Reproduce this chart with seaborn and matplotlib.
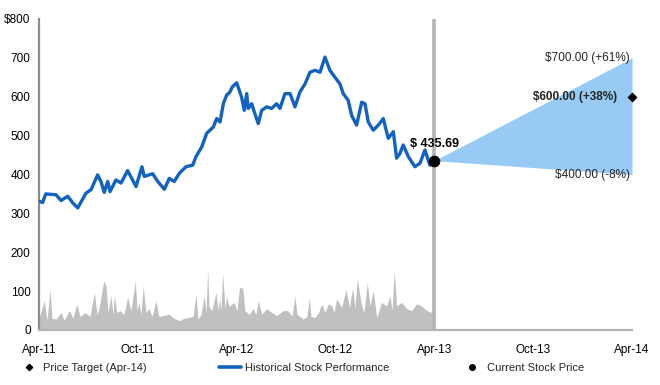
import numpy as np
import pandas as pd
import matplotlib
matplotlib.use("Agg")
import matplotlib.pyplot as plt
from matplotlib.lines import Line2D
import seaborn as sns

# ---- data (x in months since Apr-11) ----
price_months = [0.02, 0.22, 0.41, 1.03, 1.34, 1.74, 2.05, 2.35, 2.85, 3.16, 3.56, 3.76, 3.96, 4.17,
                4.31, 4.67, 4.98, 5.38, 5.89, 6.25, 6.39, 6.90, 7.21, 7.61, 7.91, 8.21, 8.52, 8.92,
                9.33, 9.53, 9.88, 10.18, 10.58, 10.79, 10.99, 11.19, 11.39, 11.59, 11.73, 12.00,
                12.30, 12.46, 12.61, 12.70, 12.91, 13.07, 13.31, 13.52, 13.82, 14.12, 14.43, 14.63,
                14.93, 15.24, 15.54, 15.84, 16.15, 16.45, 16.75, 17.06, 17.36, 17.66, 17.97, 18.27,
                18.47, 18.77, 18.98, 19.28, 19.59, 19.79, 19.99, 20.29, 20.60, 20.90, 21.20, 21.51,
                21.71, 21.91, 22.11, 22.42, 22.82, 23.13, 23.43, 23.73, 24.00]
price_values = [331, 328, 350, 348, 333, 344, 327, 314, 352, 361, 399, 382, 354, 382,
                356, 386, 378, 410, 369, 420, 395, 402, 382, 362, 390, 382, 403, 420,
                424, 446, 471, 506, 522, 544, 535, 582, 604, 612, 625, 636,
                599, 565, 608, 570, 582, 561, 531, 565, 574, 570, 582, 570,
                608, 608, 574, 612, 633, 663, 668, 663, 702, 668, 650, 633,
                608, 591, 552, 527, 586, 582, 535, 514, 527, 544, 493, 510,
                442, 454, 476, 446, 420, 429, 463, 424, 435.69]

volume_months = [0.00, 0.32, 0.49, 0.67, 0.79, 1.03, 1.34, 1.52, 1.84, 2.06, 2.29, 2.49, 2.79, 3.10,
                 3.36, 3.52, 3.64, 3.93, 4.07, 4.19, 4.37, 4.49, 4.58, 4.73, 4.92, 5.16, 5.38, 5.58,
                 5.85, 5.95, 6.07, 6.19, 6.33, 6.49, 6.67, 6.86, 7.10, 7.28, 7.53, 7.89, 8.19, 8.52,
                 8.80, 9.04, 9.35, 9.53, 9.65, 9.83, 10.03, 10.14, 10.24, 10.32, 10.50, 10.74, 10.87,
                 10.96, 11.05, 11.15, 11.29, 11.39, 11.53, 11.72, 11.84, 12.02, 12.17, 12.30, 12.38,
                 12.50, 12.75, 12.99, 13.17, 13.31, 13.52, 13.82, 14.12, 14.43, 14.81, 15.11, 15.36,
                 15.54, 15.66, 16.04, 16.27, 16.41, 16.51, 16.75, 16.97, 17.16, 17.36, 17.56, 17.77,
                 17.91, 18.07, 18.37, 18.64, 18.84, 19.04, 19.18, 19.32, 19.59, 19.73, 19.93, 20.09,
                 20.29, 20.50, 20.80, 21.10, 21.31, 21.43, 21.57, 21.71, 22.02, 22.32, 22.62, 22.92,
                 23.23, 23.53, 23.84, 23.98]
volume_values = [30, 75, 25, 105, 30, 28, 45, 25, 50, 30, 67, 35, 45, 35,
                 97, 40, 55, 126, 113, 45, 88, 40, 88, 45, 50, 40, 84, 50,
                 126, 50, 71, 40, 113, 45, 55, 35, 75, 35, 37, 41, 30, 24,
                 30, 32, 35, 92, 28, 40, 88, 45, 156, 60, 50, 97, 50,
                 80, 50, 148, 55, 88, 60, 67, 71, 50, 109, 109, 105,
                 50, 40, 55, 40, 75, 41, 55, 45, 37, 50, 50, 35,
                 88, 41, 28, 35, 84, 35, 32, 45, 67, 45, 67, 62,
                 45, 80, 58, 105, 58, 109, 55, 131, 62, 45, 122, 62,
                 101, 32, 71, 62, 88, 50, 152, 62, 71, 55, 50, 67,
                 62, 50, 45, 32]

current_month = 24.0
current_price = 435.69
target_month = 36.0
target_high = 700.0
target_mid = 600.0
target_low = 400.0

tick_months = [0, 6, 12, 18, 24, 30, 36]
tick_labels = ["Apr-11", "Oct-11", "Apr-12", "Oct-12", "Apr-13", "Oct-13", "Apr-14"]
y_ticks = [0, 100, 200, 300, 400, 500, 600, 700, 800]
y_labels = ["0", "100", "200", "300", "400", "500", "600", "700", "$800"]

label_high = "$700.00 (+61%)"
label_mid = "$600.00 (+38%)"
label_low = "$400.00 (-8%)"
label_current = "$ 435.69"
legend_labels = ["Price Target (Apr-14)", "Historical Stock Performance", "Current Stock Price"]

# ---- style ----
sns.set_style("white")
plt.rcParams["font.family"] = ["Liberation Sans", "DejaVu Sans"]

BLUE = "#1262C4"
LIGHTBLUE = "#97CAF4"
GRAY = "#C0C0C0"
SPINE = "#8C8C8C"

fig = plt.figure(figsize=(6.6, 3.85), dpi=100)
ax = fig.add_axes([39 / 660, 1 - 330 / 385, (632 - 39) / 660, (330 - 19) / 385])

price_df = pd.DataFrame({"month": price_months, "price": price_values})
vol_df = pd.DataFrame({"month": volume_months, "volume": volume_values})

# volume area
ax.fill_between(vol_df["month"], 0, vol_df["volume"], color=GRAY, linewidth=0, zorder=1)

# projection cone
ax.fill_between([current_month, target_month], [current_price, target_low],
                [current_price, target_high], color=LIGHTBLUE, linewidth=0, zorder=1)

# divider at current date
ax.axvline(current_month, color="#B4B4B4", linewidth=2.6, zorder=2)

# price line
sns.lineplot(data=price_df, x="month", y="price", ax=ax, color=BLUE, linewidth=2.4,
             zorder=3, legend=False)

# current price dot
sns.scatterplot(x=[current_month], y=[current_price], ax=ax, color="black", s=60,
                zorder=5, legend=False, edgecolor="black")
# target diamond
sns.scatterplot(x=[target_month], y=[target_mid], ax=ax, color="black", marker="D", s=22,
                zorder=5, legend=False, edgecolor="black", clip_on=False)

# annotations
ax.text(current_month, current_price + 27, label_current, ha="center", va="bottom",
        fontsize=9, fontweight="bold", color="black")
ax.text(target_month - 0.15, target_high, label_high, ha="right", va="center", fontsize=8.5)
ax.text(target_month - 0.9, target_mid, label_mid, ha="right", va="center", fontsize=8.5,
        fontweight="bold")
ax.text(target_month - 0.15, target_low - 2, label_low, ha="right", va="center", fontsize=8.5)

# axes
ax.set_xlim(0, 36)
ax.set_ylim(0, 800)
ax.set_xticks(tick_months)
ax.set_xticklabels(tick_labels)
ax.set_yticks(y_ticks)
ax.set_yticklabels(y_labels)
ax.tick_params(axis="both", length=0, labelsize=8.5, colors="black")
ax.tick_params(axis="x", pad=10)
ax.tick_params(axis="y", pad=6)
ax.set_xlabel("")
ax.set_ylabel("")
for s in ["top", "right"]:
    ax.spines[s].set_visible(False)
ax.spines["left"].set_color(SPINE)
ax.spines["left"].set_linewidth(1.6)
ax.spines["bottom"].set_color("#B4B4B4")
ax.spines["bottom"].set_linewidth(1.6)

# legend
handles = [
    Line2D([], [], linestyle="none", marker="D", markersize=3.2, color="black"),
    Line2D([], [], color=BLUE, linewidth=2.6),
    Line2D([], [], linestyle="none", marker="o", markersize=4, color="black"),
]
fig.legend(handles, legend_labels, loc="lower left", ncol=3, mode="expand",
           bbox_to_anchor=(0.012, 0.005, 0.888, 0.09), frameon=False, fontsize=8,
           handlelength=2.0, handletextpad=0.3)

fig.savefig("out.png", dpi=100)
